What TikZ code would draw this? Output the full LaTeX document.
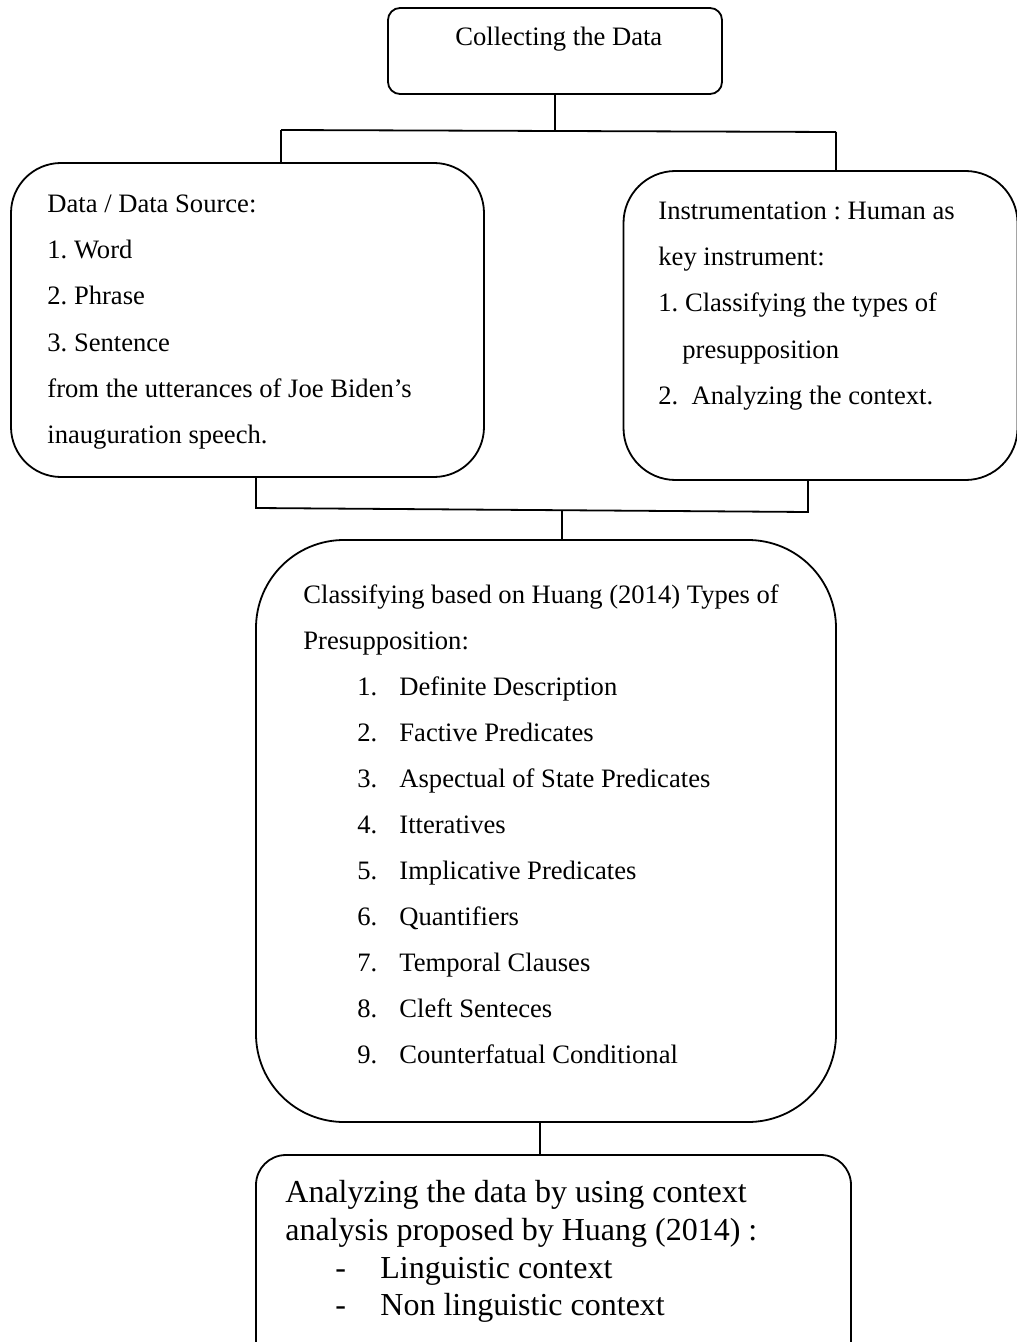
\documentclass[tikz,border=0pt]{standalone}
\usepackage{fontspec}
\setmainfont{Liberation Serif}
\usetikzlibrary{positioning}
\frenchspacing

\tikzset{
  flowbox/.style={draw, line width=0.9pt, inner sep=0pt},
  txt/.style={anchor=base west, inner sep=0pt, font=\fontsize{13.3}{16}\selectfont},
  bigtxt/.style={anchor=base west, inner sep=0pt, font=\fontsize{16}{19}\selectfont},
  link/.style={line width=0.9pt},
}

\begin{document}
\begin{tikzpicture}[x=0.5pt, y=-0.5pt]
    \useasboundingbox (0,0) rectangle (1016,1342);

    % boxes
    \node[flowbox, rounded corners=6pt, minimum width=167pt, minimum height=43pt] (top) at (555,51) {};
    \node[flowbox, rounded corners=25pt, minimum width=236.5pt, minimum height=157pt] (left) at (247.5,320) {};
    \node[flowbox, rounded corners=26pt, minimum width=197pt, minimum height=154.5pt] (right) at (820.5,325.5) {};
    \node[flowbox, rounded corners=44pt, minimum width=290pt, minimum height=291pt] (mid) at (546,831) {};
    \node[flowbox, rounded corners=15pt, minimum width=297.5pt, minimum height=117.5pt] (bot) at (553.5,1272.5) {};

    % connectors
    \coordinate (tj) at (555,131);
    \coordinate (tl) at (281,130);
    \coordinate (tr) at (836,132);
    \draw[link] (top.south) -- (tj);
    \draw[link] (tl) -- (tr);
    \draw[link] (tl) -- (tl |- left.north);
    \draw[link] (tr) -- (tr |- right.north);

    \coordinate (bl) at (256,508);
    \coordinate (br) at (808,512);
    \coordinate (bm) at (562,510);
    \draw[link] (bl |- left.south) -- (bl) -- (br) -- (br |- right.south);
    \draw[link] (bm) -- (bm |- mid.north);

    \coordinate (mb) at (540,1140);
    \draw[link] (mb |- mid.south) -- (mb |- bot.north);

    % texts
    \node[txt] (ttl) at (455,46) {Collecting the Data};

    \foreach \t [count=\i from 0] in {Data / Data Source:, 1. Word, 2. Phrase, 3. Sentence,
        from the utterances of Joe Biden’s, inauguration speech.}
        \node[txt] (l\i) at (47,213+46*\i) {\t};

    \node[txt] (r0) at (658,220) {Instrumentation : Human as};
    \node[txt] (r1) at (658,266) {key instrument:};
    \node[txt] (r2) at (658,312) {1. Classifying the types of};
    \node[txt] (r3) at (682,358) {presupposition};
    \node[txt] (r4) at (658,404) {2.\ \ Analyzing the context.};

    \node[txt] (m0) at (303,603) {Classifying based on Huang (2014) Types of};
    \node[txt] (m1) at (303,649) {Presupposition:};
    \foreach \t [count=\i] in {Definite Description, Factive Predicates, Aspectual of State Predicates,
        Itteratives, Implicative Predicates, Quantifiers, Temporal Clauses, Cleft Senteces,
        Counterfatual Conditional}
    {
        \node[txt] (n\i) at (357,649+46*\i) {\i.};
        \node[txt] (k\i) at (399,649+46*\i) {\t};
    }

    \node[bigtxt] (b0) at (285,1202) {Analyzing the data by using context};
    \node[bigtxt] (b1) at (285,1240) {analysis proposed by Huang (2014) :};
    \node[bigtxt] (d1) at (335,1278) {-};
    \node[bigtxt] (b2) at (380,1278) {Linguistic context};
    \node[bigtxt] (d2) at (335,1315) {-};
    \node[bigtxt] (b3) at (380,1315) {Non linguistic context};
\end{tikzpicture}
\end{document}
